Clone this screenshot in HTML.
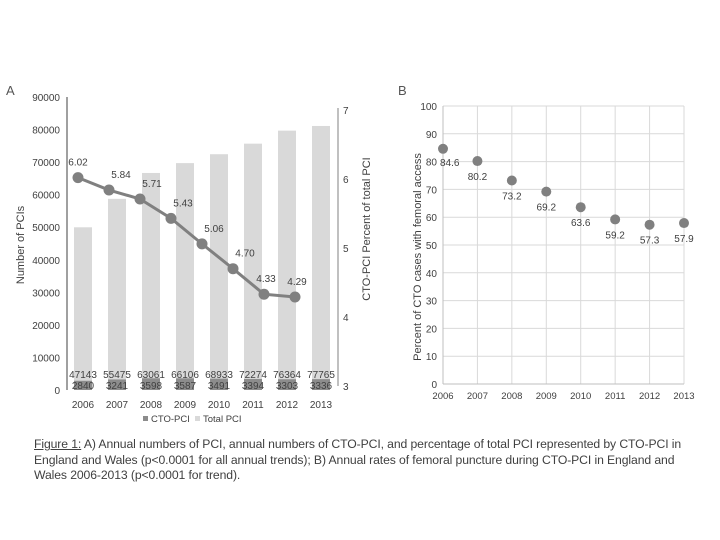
<!DOCTYPE html>
<html><head><meta charset="utf-8"><style>
body{margin:0;width:720px;height:540px;background:#fff;font-family:"Liberation Sans",sans-serif;overflow:hidden}
svg{position:absolute;left:0;top:0}
#cap{position:absolute;left:34px;top:437px;width:652px;font-size:12.2px;line-height:15.5px;color:#404040;letter-spacing:-0.1px}
</style></head><body>
<svg id="chart" width="720" height="540" font-family="Liberation Sans, sans-serif"></svg>
<div id="cap"><u>Figure 1:</u> A) Annual numbers of PCI, annual numbers of CTO-PCI, and percentage of total PCI represented by CTO-PCI in England and Wales (p&lt;0.0001 for all annual trends); B) Annual rates of femoral puncture during CTO-PCI in England and Wales 2006-2013 (p&lt;0.0001 for trend).</div>
<script>
const years=["2006","2007","2008","2009","2010","2011","2012","2013"];
const totalPci=[47143,55475,63061,66106,68933,72274,76364,77765];
const ctoPci=[2840,3241,3598,3587,3491,3394,3303,3336];
const ctoPct=[6.02,5.84,5.71,5.43,5.06,4.70,4.33,4.29];
const leftTicks=[0,10000,20000,30000,40000,50000,60000,70000,80000,90000];
const rightTicks=[3,4,5,6,7];
const femoral=[84.6,80.2,73.2,69.2,63.6,59.2,57.3,57.9];
const femTicks=[0,10,20,30,40,50,60,70,80,90,100];

const svg=document.getElementById('chart');
const NS='http://www.w3.org/2000/svg';
function mk(tag,attrs,parent){const e=document.createElementNS(NS,tag);for(const k in attrs)e.setAttribute(k,attrs[k]);(parent||svg).appendChild(e);return e;}
function txt(s,x,y,o,parent){const t=mk('text',Object.assign({x:x,y:y,'font-size':10,fill:'#404040'},o||{}),parent);t.textContent=s;return t;}

// ---- Chart A ----
const gA=mk('g',{});


const yL=v=>390-v*(293/90000);
const yR=v=>386-(v-3)*69;
const xBar=i=>83+i*34;
const xPt=i=>78+i*31;
let t=txt('A',6,95,{'font-size':13,fill:'#555'},gA);

leftTicks.forEach(v=>{const e=txt(String(v),60,yL(v)+4,{'text-anchor':'end'},gA);
});
rightTicks.forEach(v=>{const e=txt(String(v),343,yR(v)+4,{},gA);
});
years.forEach((y,i)=>{
  const top=totalPci[i]+ctoPci[i];
  const b=mk('rect',{x:xBar(i)-9,y:yL(top),width:18,height:yL(0)-yL(top),fill:'#d9d9d9'},gA);
  
  const c=mk('rect',{x:xBar(i)-9,y:yL(ctoPci[i]),width:18,height:yL(0)-yL(ctoPci[i]),fill:'#8c8c8c'},gA);
  
  const l1=txt(String(totalPci[i]),xBar(i),378,{'text-anchor':'middle'},gA);
  
  const l2=txt(String(ctoPci[i]),xBar(i),389,{'text-anchor':'middle'},gA);
  
  const yl=txt(y,xBar(i),408,{'text-anchor':'middle'},gA);
  
});
let ax=mk('line',{x1:67,y1:97,x2:67,y2:390,stroke:'#808080','stroke-width':1.5},gA);

ax=mk('line',{x1:338,y1:108,x2:338,y2:386,stroke:'#808080','stroke-width':1},gA);

const pts=ctoPct.map((v,i)=>xPt(i)+','+yR(v)).join(' ');
const pl=mk('polyline',{points:pts,fill:'none',stroke:'#808080','stroke-width':3},gA);

ctoPct.forEach((v,i)=>{
  const c=mk('circle',{cx:xPt(i),cy:yR(v),r:5.5,fill:'#808080'},gA);
  
  const l=txt(v.toFixed(2),xPt(i)+(i<1?0:i>5?2:12),yR(v)-12,{'text-anchor':'middle'},gA);
  
});
t=txt('Number of PCIs',0,0,{'font-size':11,'text-anchor':'middle',transform:'translate(24,245) rotate(-90)'},gA);

t=txt('CTO-PCI Percent of total PCI',0,0,{'font-size':11,'text-anchor':'middle',transform:'translate(370,229) rotate(-90)'},gA);

const lg=mk('g',{},gA);

let r=mk('rect',{x:143,y:416,width:5,height:5,fill:'#8c8c8c'},lg);

t=txt('CTO-PCI',151,422,{'font-size':9.5},lg);

r=mk('rect',{x:195,y:416,width:5,height:5,fill:'#d9d9d9'},lg);

t=txt('Total PCI',203,422,{'font-size':9.5},lg);


// ---- Chart B ----
const gB=mk('g',{});


const xB=i=>443+i*(241/7);
const yB=v=>384-v*2.78;
t=txt('B',398,95,{'font-size':13,fill:'#555'},gB);

femTicks.forEach(v=>{
  const g=mk('line',{x1:443,x2:684,y1:yB(v),y2:yB(v),stroke:'#d9d9d9','stroke-width':1},gB);
  
  const l=txt(String(v),437,yB(v)+4,{'text-anchor':'end'},gB);
  
});
years.forEach((y,i)=>{
  const g=mk('line',{x1:xB(i),x2:xB(i),y1:yB(100),y2:yB(0),stroke:'#d9d9d9','stroke-width':1},gB);
  
  const l=txt(y,xB(i),399,{'text-anchor':'middle','font-size':9.5},gB);
  
});
ax=mk('line',{x1:443,x2:443,y1:yB(100),y2:yB(0),stroke:'#bfbfbf','stroke-width':1},gB);

ax=mk('line',{x1:443,x2:684,y1:yB(0),y2:yB(0),stroke:'#bfbfbf','stroke-width':1},gB);

femoral.forEach((v,i)=>{
  const c=mk('circle',{cx:xB(i),cy:yB(v),r:5,fill:'#808080'},gB);
  
  const l=i===0?txt(v.toFixed(1),440,yB(v)+17,{},gB):txt(v.toFixed(1),xB(i),yB(v)+19,{'text-anchor':'middle'},gB);
  
});
t=txt('Percent of CTO cases with femoral access',0,0,{'font-size':11,'text-anchor':'middle',transform:'translate(421,257) rotate(-90)'},gB);

</script>
</body></html>
